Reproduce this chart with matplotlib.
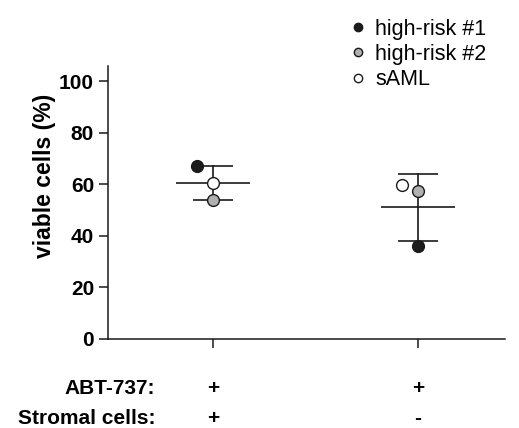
import matplotlib.pyplot as plt
import numpy as np
from matplotlib.lines import Line2D
import matplotlib.transforms as mtransforms

plt.rcParams['font.family'] = ['Liberation Sans', 'DejaVu Sans']

# data
groups = [0, 1]
abt737 = ['+', '+']
stromal = ['+', '-']
patients = ['high-risk #1', 'high-risk #2', 'sAML']
hr1 = [67.0, 36.2]
hr2 = [53.8, 57.4]
saml = [60.7, 59.7]
colors = ['#1c1c1c', '#b0b0b0', 'white']
# horizontal jitter used in the original figure
offsets = [[-0.08, 0.0], [0.0, 0.0], [0.0, -0.08]]

FS = 15

fig = plt.figure(figsize=(5.19, 4.28), dpi=100)
ax = fig.add_axes([0.208, 0.208, 0.765, 0.638])

vals = np.array([hr1, hr2, saml])
means = vals.mean(axis=0)
sds = vals.std(axis=0, ddof=1)

for g in groups:
    ax.plot([g, g], [means[g] - sds[g], means[g] + sds[g]], color='#1a1a1a', lw=1.2, zorder=1)
    ax.hlines([means[g] - sds[g], means[g] + sds[g]], g - 0.097, g + 0.097, color='#1a1a1a', lw=1.2, zorder=1)
    ax.hlines(means[g], g - 0.18, g + 0.18, color='#1a1a1a', lw=1.2, zorder=1)

for i, (name, series) in enumerate(zip(patients, [hr1, hr2, saml])):
    xs = np.array(groups) + np.array(offsets[i])
    ax.plot(xs, series, 'o', ms=8.5, mfc=colors[i], mec='#1a1a1a', mew=1.0, ls='none', zorder=3)

ax.set_xlim(-0.512, 1.424)
ax.set_ylim(0, 106)
ax.set_yticks([0, 20, 40, 60, 80, 100])
ax.set_xticks(groups)
ax.set_xticklabels([])
for s in ['top', 'right']:
    ax.spines[s].set_visible(False)
for s in ['left', 'bottom']:
    ax.spines[s].set_linewidth(1.1)
    ax.spines[s].set_color('#1a1a1a')
ax.tick_params(axis='both', direction='out', length=6.5, width=1.1, color='#1a1a1a')
ax.tick_params(axis='y', labelsize=FS, pad=3.5)
for lbl in ax.get_yticklabels():
    lbl.set_fontweight('bold')
ax.set_ylabel('viable cells (%)', fontsize=16.5, fontweight='bold')
ax.yaxis.set_label_coords(-0.13, 0.597)

trans = mtransforms.blended_transform_factory(ax.transData, fig.transFigure)
for g in groups:
    ax.text(groups[g], 1 - 388 / 428, abt737[g], transform=trans, ha='center', va='center',
            fontsize=FS, fontweight='bold')
    ax.text(groups[g], 1 - 419 / 428, stromal[g], transform=trans, ha='center', va='center',
            fontsize=FS, fontweight='bold')
fig.text(155 / 519, 1 - 388 / 428, 'ABT-737:', ha='right', va='center', fontsize=FS, fontweight='bold')
fig.text(155 / 519, 1 - 419 / 428, 'Stromal cells:', ha='right', va='center', fontsize=FS, fontweight='bold')

handles = [Line2D([], [], marker='o', ls='none', ms=6, mfc=c, mec='#1a1a1a', mew=1.0) for c in colors]
fig.legend(handles, patients, loc='upper left', bbox_to_anchor=(333 / 519, 1 - 10 / 428),
           frameon=False, fontsize=15.5, handletextpad=0.05, labelspacing=0.2,
           handlelength=1.5, borderaxespad=0)

fig.savefig('out.png', dpi=100)
